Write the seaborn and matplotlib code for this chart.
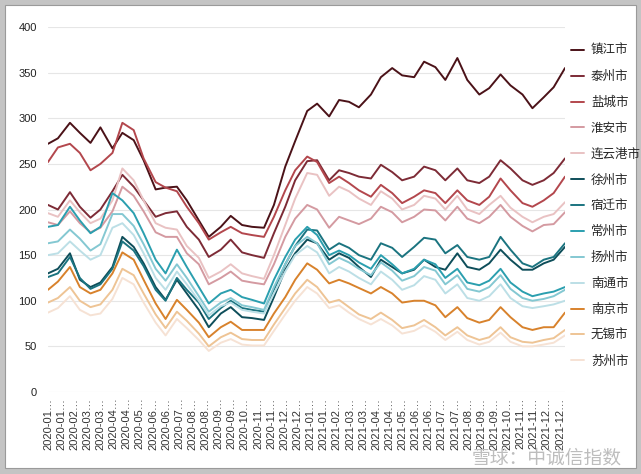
import datetime as dt
import pandas as pd
import numpy as np
import matplotlib
matplotlib.use("Agg")
import matplotlib.pyplot as plt
import matplotlib.dates as mdates
from matplotlib.patches import Rectangle
import seaborn as sns

# semi-monthly sampling dates
dates = [dt.date(y, m, d) for y in (2020, 2021) for m in range(1, 13) for d in (1, 15)]
dates.append(dt.date(2021, 12, 31))

cities = ["镇江市", "泰州市", "盐城市", "淮安市", "连云港市", "徐州市", "宿迁市",
          "常州市", "扬州市", "南通市", "南京市", "无锡市", "苏州市"]
colors = ["#4b1218", "#7d2b36", "#b3474d", "#d49aa1", "#e9c2c3", "#0e4e5a", "#1b7480",
          "#2b9faf", "#84c8d2", "#bcdfe6", "#d8822c", "#eec495", "#f6e2d4"]

zhenjiang = [272, 278, 295, 284, 273, 290, 267, 284, 276, 254, 222, 224, 225, 210, 188, 170,
             181, 193, 183, 181, 180, 205, 247, 275, 308, 316, 302, 320, 318, 312, 326, 345,
             355, 347, 345, 362, 356, 342, 366, 342, 326, 333, 348, 336, 326, 311, 323, 334, 355]
taizhou = [205, 200, 219, 203, 191, 200, 220, 238, 225, 210, 192, 196, 198, 181, 167, 148,
           156, 167, 153, 150, 147, 174, 203, 232, 253, 254, 232, 243, 240, 236, 234, 249,
           241, 232, 236, 247, 243, 232, 245, 232, 229, 236, 254, 245, 232, 227, 232, 240, 256]
yancheng = [252, 268, 272, 262, 243, 250, 262, 295, 287, 256, 230, 224, 220, 203, 185, 167,
            175, 181, 174, 172, 170, 192, 221, 243, 258, 252, 229, 236, 229, 221, 214, 227,
            218, 207, 214, 221, 218, 207, 221, 210, 205, 214, 234, 221, 207, 203, 210, 218, 236]
huaian = [186, 183, 198, 185, 175, 180, 198, 225, 215, 198, 175, 170, 170, 152, 140, 118,
          125, 132, 122, 120, 118, 140, 170, 190, 205, 200, 180, 192, 188, 184, 190, 203,
          197, 186, 192, 200, 199, 188, 203, 190, 185, 192, 205, 192, 182, 176, 183, 184, 197]
lianyungang = [196, 192, 210, 197, 185, 190, 210, 245, 232, 210, 185, 180, 178, 160, 147, 125,
               132, 140, 130, 127, 124, 150, 183, 212, 240, 238, 215, 225, 220, 212, 205, 220,
               212, 200, 205, 215, 212, 200, 215, 200, 195, 205, 215, 202, 192, 186, 192, 195, 208]
xuzhou = [130, 135, 152, 123, 115, 120, 137, 170, 159, 141, 115, 101, 123, 108, 90, 71,
          86, 93, 82, 81, 79, 104, 134, 152, 167, 163, 145, 152, 147, 137, 126, 145,
          137, 130, 134, 145, 137, 134, 152, 137, 134, 141, 156, 145, 134, 134, 141, 145, 159]
suqian = [126, 130, 148, 125, 113, 118, 135, 165, 155, 138, 112, 100, 125, 112, 98, 80,
          92, 100, 92, 90, 88, 112, 140, 160, 178, 177, 156, 163, 158, 150, 145, 163,
          158, 148, 159, 169, 167, 152, 161, 148, 145, 148, 170, 156, 141, 137, 145, 148, 163]
changzhou = [181, 183, 203, 188, 174, 181, 218, 210, 196, 174, 145, 130, 156, 137, 115, 97,
             108, 112, 104, 101, 97, 123, 148, 167, 181, 172, 150, 155, 150, 142, 135, 150,
             140, 130, 135, 145, 140, 125, 135, 120, 117, 122, 135, 120, 110, 105, 108, 110, 115]
yangzhou = [163, 165, 178, 168, 155, 162, 195, 195, 182, 162, 135, 122, 140, 125, 105, 88,
            98, 103, 95, 93, 90, 115, 140, 160, 170, 163, 140, 147, 142, 135, 128, 142,
            133, 122, 127, 137, 133, 118, 128, 113, 110, 115, 128, 113, 103, 100, 102, 105, 112]
nantong = [150, 152, 165, 155, 145, 150, 180, 185, 172, 152, 125, 112, 132, 118, 100, 84,
           94, 98, 90, 88, 86, 108, 132, 150, 160, 153, 130, 137, 132, 125, 118, 132,
           123, 112, 117, 127, 123, 108, 118, 103, 100, 105, 118, 103, 94, 92, 94, 96, 100]
nanjing = [112, 121, 137, 115, 108, 112, 130, 153, 145, 123, 97, 80, 101, 90, 76, 60,
           71, 77, 68, 68, 68, 86, 104, 123, 141, 134, 119, 123, 119, 114, 108, 115,
           108, 98, 100, 100, 95, 82, 93, 81, 76, 79, 93, 82, 71, 68, 71, 71, 87]
wuxi = [98, 103, 115, 100, 93, 96, 112, 135, 128, 108, 85, 70, 88, 78, 64, 50,
        60, 65, 58, 57, 57, 74, 92, 108, 123, 115, 98, 101, 93, 85, 80, 87,
        79, 70, 73, 79, 71, 62, 71, 62, 57, 60, 71, 60, 55, 54, 57, 59, 68]
suzhou = [87, 92, 105, 90, 84, 86, 102, 125, 118, 98, 76, 62, 80, 70, 57, 45,
          54, 58, 52, 51, 51, 67, 85, 100, 115, 108, 92, 95, 87, 80, 74, 80,
          73, 64, 67, 73, 66, 57, 66, 57, 52, 55, 65, 55, 50, 50, 52, 54, 62]

series = [zhenjiang, taizhou, yancheng, huaian, lianyungang, xuzhou, suqian,
          changzhou, yangzhou, nantong, nanjing, wuxi, suzhou]

tick_labels = ["2020-01", "2020-01", "2020-02", "2020-03", "2020-03", "2020-04", "2020-04",
               "2020-05", "2020-06", "2020-06", "2020-07", "2020-08", "2020-08", "2020-09",
               "2020-09", "2020-10", "2020-11", "2020-11", "2020-12", "2020-12",
               "2021-01", "2021-01", "2021-02", "2021-03", "2021-03", "2021-04", "2021-04",
               "2021-05", "2021-06", "2021-06", "2021-07", "2021-07", "2021-08", "2021-09",
               "2021-09", "2021-10", "2021-11", "2021-11", "2021-12", "2021-12"]

df = pd.DataFrame({
    "date": pd.to_datetime(dates * len(cities)),
    "city": np.repeat(cities, len(dates)),
    "value": np.concatenate(series),
})

sns.set_theme(style="white")
plt.rcParams["font.family"] = ["Liberation Sans", "Noto Sans CJK SC", "DejaVu Sans"]

fig = plt.figure(figsize=(6.41, 4.74), dpi=100)
fig.patch.set_facecolor("#c4c4c4")
fig.patches.append(Rectangle((5 / 641, 6 / 474), 631 / 641, 463 / 474,
                             transform=fig.transFigure, facecolor="white",
                             edgecolor="#9a9a9a", lw=0.8, zorder=-10))

ax = fig.add_axes([48 / 641, 82 / 474, 517 / 641, 365 / 474])
ax.set_facecolor("none")
sns.lineplot(data=df, x="date", y="value", hue="city", hue_order=cities,
             palette=colors, linewidth=1.4, ax=ax, legend=False)

x0 = mdates.date2num(pd.Timestamp(dates[0]))
x1 = mdates.date2num(pd.Timestamp(dates[-1]))
ax.set_xlim(x0, x1)
ax.set_ylim(0, 400)
ax.set_yticks(range(0, 401, 50))
ticks = np.linspace(x0, x0 + (x1 - x0) * 512 / 517, len(tick_labels))
ax.set_xticks(ticks)
ax.set_xticklabels([t + "…" for t in tick_labels], rotation=90, fontsize=8, color="#333333")
ax.tick_params(axis="y", labelsize=8, labelcolor="#222222", length=0, pad=8)
ax.tick_params(axis="x", length=0, pad=4)
ax.set_xlabel("")
ax.set_ylabel("")
ax.yaxis.grid(True, color="#e6e6e6", lw=0.8)
ax.xaxis.grid(False)
ax.set_axisbelow(True)
for s in ax.spines.values():
    s.set_visible(False)

handles = [plt.Line2D([], [], color=c, lw=1.4) for c in colors]
fig.legend(handles, cities, loc="upper left", bbox_to_anchor=(571 / 641, 1 - 45 / 474),
           frameon=False, handlelength=1.0, handletextpad=0.6, labelspacing=1.1,
           fontsize=9, borderaxespad=0, borderpad=0)

fig.text(622 / 641, 1 - 458 / 474, "雪球：中诚信指数", ha="right", va="center",
         fontsize=13.5, color="#bdbdbd", family=["Noto Sans CJK SC", "DejaVu Sans"])

fig.savefig("out.png", dpi=100, facecolor=fig.get_facecolor())
